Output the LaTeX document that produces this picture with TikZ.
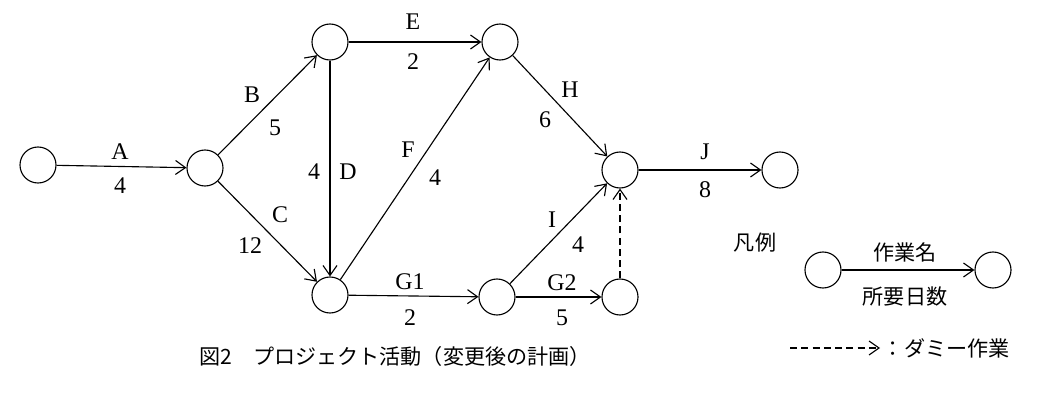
\documentclass[tikz,border=0pt]{standalone}
\usepackage{fontspec}
\setmainfont{Liberation Serif}
\newfontfamily\cjk{Noto Sans CJK JP}
\usetikzlibrary{positioning,arrows.meta}
\tikzset{
  ev/.style={circle,draw,thick,minimum size=0.9cm,inner sep=0pt},
  act/.style={->,thick,>={Straight Barb[length=2.5mm,width=3.5mm]}},
  dum/.style={act,dash pattern=on 5pt off 3pt},
  lab/.style={font=\fontsize{17}{20}\selectfont},
  jp/.style={font=\fontsize{15}{18}\selectfont\cjk}
}
\begin{document}
\begin{tikzpicture}[x=0.025cm,y=-0.025cm]
\useasboundingbox (0,0) rectangle (1040,400);

	\node[ev] (N1) at (38,165) {};
	\node[ev] (N2) at (205,168) {};
	\node[ev] (N3) at (330,42) {};
	\node[ev] (N4) at (500,42) {};
	\node[ev] (N5) at (330,295) {};
	\node[ev] (N6) at (620,170) {};
	\node[ev] (N7) at (780,170) {};
	\node[ev] (N8) at (497,297) {};
	\node[ev] (N9) at (620,297) {};

	\draw[act] (N1) to (N2);
	\draw[act] (N2) to (N3);
	\draw[act] (N2) to (N5);
	\draw[act] (N3) to (N4);
	\draw[act] (N3) to (N5);
	\draw[act] (N5) to (N4);
	\draw[act] (N4) to (N6);
	\draw[act] (N5) to (N8);
	\draw[act] (N8) to (N6);
	\draw[act] (N8) to (N9);
	\draw[dum] (N9) to (N6);
	\draw[act] (N6) to (N7);

	\node[lab] (lA) at (120,152) {A};
	\node[lab] (dA) at (120,186) {4};
	\node[lab] (lB) at (252,95) {B};
	\node[lab] (dB) at (275,128) {5};
	\node[lab] (lC) at (280,215) {C};
	\node[lab] (dC) at (250,246) {12};
	\node[lab] (dD) at (314,172) {4};
	\node[lab] (lD) at (348,172) {D};
	\node[lab] (lE) at (413,22) {E};
	\node[lab] (dE) at (413,62) {2};
	\node[lab] (lF) at (408,150) {F};
	\node[lab] (dF) at (435,178) {4};
	\node[lab] (lH) at (570,90) {H};
	\node[lab] (dH) at (545,120) {6};
	\node[lab] (lJ) at (705,152) {J};
	\node[lab] (dJ) at (705,190) {8};
	\node[lab] (lI) at (552,220) {I};
	\node[lab] (dI) at (578,245) {4};
	\node[lab] (lG1) at (410,282) {G1};
	\node[lab] (dG1) at (410,318) {2};
	\node[lab] (lG2) at (562,283) {G2};
	\node[lab] (dG2) at (562,318) {5};

	% legend
	\node[jp] (key) at (755,243) {凡例};
	\node[ev] (L1) at (823,270) {};
	\node[ev] (L2) at (993,270) {};
	\draw[act] (L1) to (L2);
	\node[jp] (kname) at (905,252) {作業名};
	\node[jp] (kdays) at (905,297) {所要日数};
	\coordinate (ds) at (790,348);
	\coordinate (de) at (880,348);
	\draw[dum] (ds) to (de);
	\node[jp,anchor=west] (kdummy) at (878,348) {：ダミー作業};

	\node[jp] (cap) at (395,356) {図2\quad プロジェクト活動（変更後の計画）};

\end{tikzpicture}
\end{document}
